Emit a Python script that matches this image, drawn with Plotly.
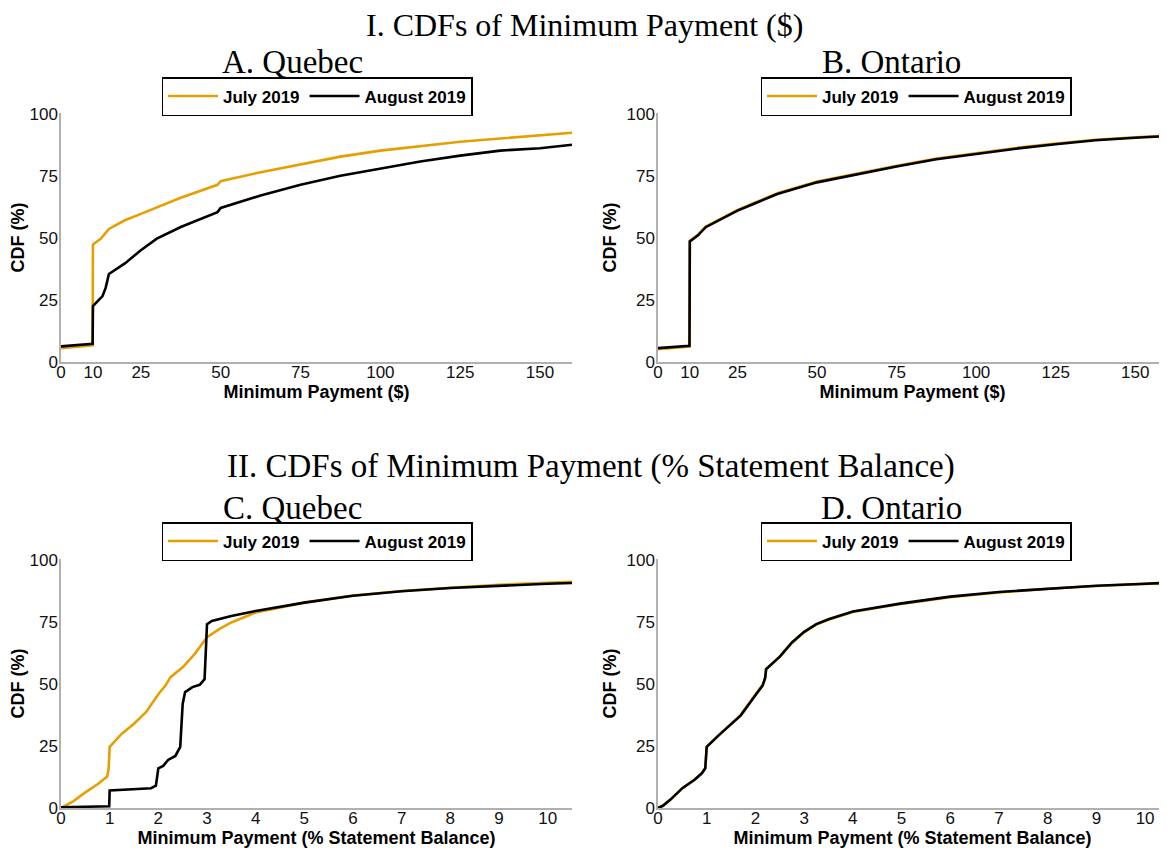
import plotly.graph_objects as go

# ---------------- Data ----------------
# Panel A: Quebec, minimum payment ($)
qc_dollar_x_jul = [0, 9, 9.9, 10, 12.5, 15, 20, 25, 30, 37.5, 49, 50, 62.5, 75, 87.5, 100, 112.5, 125, 137.5, 150, 160]
qc_dollar_y_jul = [5.6, 6.6, 6.7, 47.4, 49.8, 53.7, 57.2, 59.8, 62.5, 66.3, 71.5, 73.0, 76.6, 79.7, 82.9, 85.3, 87.2, 88.9, 90.2, 91.4, 92.5]
qc_dollar_x_aug = [0, 9, 9.9, 10, 13, 14, 15, 20, 25, 30, 37.5, 49, 50, 62.5, 75, 87.5, 100, 112.5, 125, 137.5, 150, 160]
qc_dollar_y_aug = [6.3, 7.2, 7.3, 22.6, 26.6, 30.0, 35.5, 39.8, 45.1, 49.8, 54.5, 60.5, 62.2, 67.2, 71.5, 75.2, 78.2, 80.9, 83.3, 85.3, 86.3, 87.7]

# Panel B: Ontario, minimum payment ($)
on_dollar_x = [0, 9, 9.9, 10, 12.5, 15, 20, 25, 30, 37.5, 50, 62.5, 75, 87.5, 100, 112.5, 125, 137.5, 150, 160]
on_dollar_y_jul = [5.2, 6.1, 6.2, 48.9, 51.3, 54.7, 58.1, 61.4, 64.1, 68.1, 72.8, 76.1, 79.2, 82.1, 84.4, 86.4, 88.2, 89.7, 90.7, 91.4]
on_dollar_y_aug = [5.6, 6.4, 6.5, 48.7, 51.0, 54.4, 57.8, 61.1, 63.8, 67.8, 72.5, 75.8, 78.9, 81.8, 84.1, 86.1, 87.9, 89.5, 90.5, 91.2]

# Panel C: Quebec, minimum payment (% statement balance)
qc_pct_x_jul = [0, 0.25, 0.5, 0.75, 0.95, 0.98, 1.0, 1.25, 1.5, 1.75, 2.0, 2.15, 2.25, 2.5, 2.75, 3.0, 3.25, 3.5, 4.0, 5.0, 6.0, 7.0, 8.0, 9.0, 10.0, 10.5]
qc_pct_y_jul = [0.0, 2.7, 6.3, 9.6, 12.7, 16.0, 24.7, 30.0, 34.0, 38.8, 45.9, 49.5, 52.8, 56.8, 62.2, 68.9, 72.2, 74.9, 78.9, 82.9, 85.8, 87.6, 88.9, 90.1, 90.9, 91.3]
qc_pct_x_aug = [0, 0.99, 1.0, 1.5, 1.85, 1.95, 2.0, 2.1, 2.2, 2.35, 2.45, 2.5, 2.55, 2.7, 2.85, 2.95, 3.0, 3.1, 3.5, 4.0, 5.0, 6.0, 7.0, 8.0, 9.0, 10.0, 10.5]
qc_pct_y_aug = [0.3, 0.7, 7.1, 7.6, 8.0, 9.0, 16.0, 17.0, 19.4, 21.0, 24.7, 42.0, 46.8, 48.8, 49.7, 52.0, 74.2, 75.5, 77.5, 79.5, 82.9, 85.7, 87.5, 88.8, 89.8, 90.5, 90.8]

# Panel D: Ontario, minimum payment (% statement balance)
on_pct_x = [0, 0.1, 0.25, 0.5, 0.75, 0.9, 0.97, 1.0, 1.25, 1.5, 1.7, 2.0, 2.15, 2.2, 2.22, 2.5, 2.75, 3.0, 3.25, 3.5, 4.0, 5.0, 6.0, 7.0, 8.0, 9.0, 10.0, 10.45]
on_pct_y_jul = [0.0, 0.9, 3.3, 8.0, 11.4, 14.0, 16.0, 24.7, 29.4, 33.8, 37.6, 45.8, 49.6, 52.6, 56.0, 61.0, 66.6, 70.9, 74.0, 76.0, 79.1, 82.4, 85.1, 87.0, 88.5, 89.6, 90.4, 90.8]
on_pct_y_aug = [0.0, 0.9, 3.3, 8.0, 11.4, 14.0, 16.0, 24.7, 29.4, 33.8, 37.4, 45.5, 49.5, 52.5, 56.1, 61.1, 66.8, 71.1, 74.2, 76.2, 79.3, 82.6, 85.3, 87.2, 88.6, 89.7, 90.5, 90.9]

series_names = ["July 2019", "August 2019"]
dollar_ticks = [0, 10, 25, 50, 75, 100, 125, 150]
pct_ticks = [0, 1, 2, 3, 4, 5, 6, 7, 8, 9, 10]
cdf_ticks = [0, 25, 50, 75, 100]

main_titles = ["I. CDFs of Minimum Payment ($)", "II. CDFs of Minimum Payment (% Statement Balance)"]
panel_titles = ["A. Quebec", "B. Ontario", "C. Quebec", "D. Ontario"]
x_titles = ["Minimum Payment ($)", "Minimum Payment (% Statement Balance)"]
y_title = "CDF (%)"

# ---------------- Styling ----------------
ORANGE = "#E69F00"
BLACK = "#000000"
WIN_W, WIN_H = 1167, 848
OFF = 8  # default page body margin
W, H = WIN_W - OFF, WIN_H - OFF
SANS = "Liberation Sans, Arial, sans-serif"
SERIF = "Liberation Serif, Times New Roman, serif"

panels = [
    ("x", "y", "legend", qc_dollar_x_jul, qc_dollar_y_jul, qc_dollar_x_aug, qc_dollar_y_aug),
    ("x2", "y2", "legend2", on_dollar_x, on_dollar_y_jul, on_dollar_x, on_dollar_y_aug),
    ("x3", "y3", "legend3", qc_pct_x_jul, qc_pct_y_jul, qc_pct_x_aug, qc_pct_y_aug),
    ("x4", "y4", "legend4", on_pct_x, on_pct_y_jul, on_pct_x, on_pct_y_aug),
]

fig = go.Figure()
for xa, ya, lg, xj, yj, xg, yg in panels:
    fig.add_trace(go.Scatter(x=xj, y=yj, mode="lines", name=series_names[0],
                             line=dict(color=ORANGE, width=2.6), xaxis=xa, yaxis=ya, legend=lg))
    fig.add_trace(go.Scatter(x=xg, y=yg, mode="lines", name=series_names[1],
                             line=dict(color=BLACK, width=2.6), xaxis=xa, yaxis=ya, legend=lg))

def px_x(p):
    return (p - OFF) / W

def px_y(p):
    return 1 - (p - OFF) / H

left_dom = [px_x(61), px_x(572)]
right_dom = [px_x(658), 1.0]
top_dom = [px_y(362), px_y(113)]
bot_dom = [px_y(808), px_y(559)]

axis_common = dict(showgrid=False, zeroline=False, showline=True, linecolor="#b0b0b0",
                   linewidth=1.5, ticks="", tickfont=dict(family=SANS, size=17, color="#111"),
                   fixedrange=True, automargin=False)
xt_font = dict(family=SANS, size=18, color="#000", weight="bold")

def xaxis(domain, anchor, rng, ticks, title):
    return dict(axis_common, domain=domain, anchor=anchor, range=rng, tickvals=ticks,
                ticktext=[str(t) for t in ticks], ticklabelstandoff=-6,
                title=dict(text=title, font=xt_font, standoff=3))

def yaxis(domain, anchor):
    return dict(axis_common, domain=domain, anchor=anchor, range=[0, 100.5], tickvals=cdf_ticks,
                ticktext=[str(t) for t in cdf_ticks], ticklabelstandoff=-2,
                title=dict(text=y_title, font=xt_font, standoff=5))

legend_common = dict(orientation="h", xanchor="center", yanchor="top", bordercolor="#000",
                     borderwidth=1.5, bgcolor="rgba(255,255,255,0)",
                     font=dict(family=SANS, size=17, color="#000", weight="bold"),
                     itemwidth=50, tracegroupgap=0)

fig.update_layout(
    width=W, height=H, margin=dict(l=0, r=0, t=0, b=0, autoexpand=False),
    paper_bgcolor="white", plot_bgcolor="white",
    xaxis=xaxis(left_dom, "y", [0, 160], dollar_ticks, x_titles[0]),
    yaxis=yaxis(top_dom, "x"),
    xaxis2=xaxis(right_dom, "y2", [0, 160], dollar_ticks, x_titles[0]),
    yaxis2=yaxis(top_dom, "x2"),
    xaxis3=xaxis(left_dom, "y3", [0, 10.5], pct_ticks, x_titles[1]),
    yaxis3=yaxis(bot_dom, "x3"),
    xaxis4=xaxis(right_dom, "y4", [0, 10.45], pct_ticks, x_titles[1]),
    yaxis4=yaxis(bot_dom, "x4"),
    legend=dict(legend_common, x=px_x(317), y=px_y(77)),
    legend2=dict(legend_common, x=px_x(916), y=px_y(77)),
    legend3=dict(legend_common, x=px_x(317), y=px_y(522)),
    legend4=dict(legend_common, x=px_x(916), y=px_y(522)),
    showlegend=True,
)

annotations = [
    dict(text=main_titles[0], x=px_x(584), y=px_y(25), size=32),
    dict(text=main_titles[1], x=px_x(591), y=px_y(467), size=33),
    dict(text=panel_titles[0], x=px_x(292), y=px_y(62), size=33),
    dict(text=panel_titles[1], x=px_x(891), y=px_y(62), size=33),
    dict(text=panel_titles[2], x=px_x(292), y=px_y(508), size=33),
    dict(text=panel_titles[3], x=px_x(891), y=px_y(508), size=33),
]
for a in annotations:
    size = a.pop("size")
    fig.add_annotation(xref="paper", yref="paper", showarrow=False, xanchor="center", yanchor="middle",
                       font=dict(family=SERIF, size=size, color="#000"), **a)

fig.write_html("out.html")
